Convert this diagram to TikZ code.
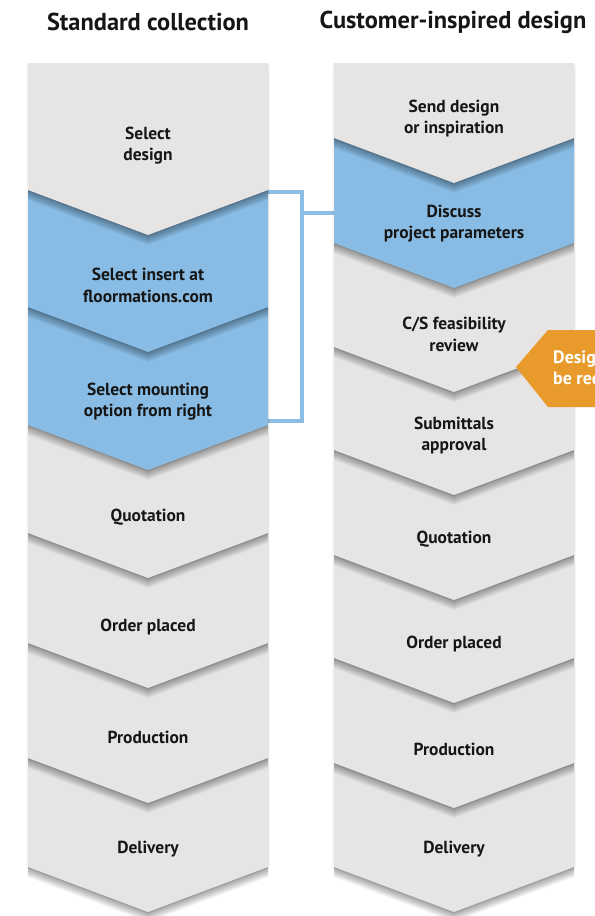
\documentclass[tikz,border=0pt]{standalone}
\usepackage{fontspec}
\setmainfont{PT Sans}
\definecolor{graybox}{HTML}{E6E5E4}
\definecolor{bluebox}{HTML}{88BCE4}
\definecolor{orangetag}{HTML}{E89B2A}
\definecolor{txt}{HTML}{161616}
\definecolor{bracketblue}{HTML}{8CBDE5}
\newcommand\mychevron[5]{% L, R, top, side, colour
  \foreach \k in {1,...,10}{%
    \fill[black,opacity=0.04] (#1,#3+\k) -- (#2,#3+\k) -- (#2,#4+\k) -- ({(#1+#2)/2},#4+45+\k) -- (#1,#4+\k) -- cycle;}
  \fill[black,opacity=0.05] (#1-1.5,#3+2) -- (#2+1.5,#3+2) -- (#2+1.5,#4+1) -- ({(#1+#2)/2},#4+46.5) -- (#1-1.5,#4+1) -- cycle;
  \fill[#5] (#1,#3) -- (#2,#3) -- (#2,#4) -- ({(#1+#2)/2},#4+45) -- (#1,#4) -- cycle;
}
\begin{document}
\begin{tikzpicture}[x=1bp,y=-1bp,
  lbl/.style={font=\bfseries\fontsize{17.5}{21.5}\selectfont, align=center, text=txt, inner sep=0pt},
  title/.style={font=\bfseries\fontsize{24.5}{27}\selectfont, text=txt, inner sep=0pt},
  tagtext/.style={font=\bfseries\fontsize{18}{21}\selectfont, align=left, text=white, inner sep=0pt, anchor=west},
  bracketline/.style={draw=bracketblue, line width=4.5bp, line join=miter}]
\useasboundingbox (0,0) rectangle (595,916);
\fill[white] (0,0) rectangle (595,916);

% titles
\node[title] (t1) at (148,22) {Standard collection};
\node[title] (t2) at (453,22) {Customer-inspired design};

% bracket linking the blue steps
\coordinate (brTL) at (266,192);
\coordinate (brTR) at (302,192);
\coordinate (brBR) at (302,421);
\coordinate (brBL) at (266,421);
\coordinate (brM) at (302,213);
\coordinate (brMR) at (336,213);
\draw[bracketline] (brTL) -- (brTR) -- (brBR) -- (brBL);
\draw[bracketline] (brM) -- (brMR);

% left column (drawn bottom-up)
\mychevron{28}{268}{758}{867}{graybox}
\mychevron{28}{268}{643}{758}{graybox}
\mychevron{28}{268}{533}{643}{graybox}
\mychevron{28}{268}{425}{533}{graybox}
\mychevron{28}{268}{307}{425}{bluebox}
\mychevron{28}{268}{190}{307}{bluebox}
\mychevron{28}{268}{63}{190}{graybox}

% right column (drawn bottom-up)
\mychevron{334}{574}{763}{867}{graybox}
\mychevron{334}{574}{658}{763}{graybox}
\mychevron{334}{574}{555}{658}{graybox}
\mychevron{334}{574}{450}{555}{graybox}
\mychevron{334}{574}{347}{450}{graybox}
\mychevron{334}{574}{243}{347}{graybox}
\mychevron{334}{574}{138}{243}{bluebox}
\mychevron{334}{574}{63}{138}{graybox}

% left labels
\node[lbl] (l1) at (148,145.5) {Select\\design};
\node[lbl] (l2) at (148,285.5) {Select insert at\\floormations.com};
\node[lbl] (l3) at (148,401.5) {Select mounting\\option from right};
\node[lbl] (l4) at (148,517.5) {Quotation};
\node[lbl] (l5) at (148,627.5) {Order placed};
\node[lbl] (l6) at (148,737.5) {Production};
\node[lbl] (l7) at (148,849.5) {Delivery};

% right labels
\node[lbl] (r1) at (454,118.5) {Send design\\or inspiration};
\node[lbl] (r2) at (454,223.5) {Discuss\\project parameters};
\node[lbl] (r3) at (454,334.5) {C/S feasibility\\review};
\node[lbl] (r4) at (454,435.5) {Submittals\\approval};
\node[lbl] (r5) at (454,539.5) {Quotation};
\node[lbl] (r6) at (454,644.5) {Order placed};
\node[lbl] (r7) at (454,749.5) {Production};
\node[lbl] (r8) at (454,849.5) {Delivery};

% orange tag (cut by the picture edge, as in the reference)
\begin{scope}
\clip (0,0) rectangle (595,916);
\fill[orangetag] (516,367) -- (548,330) -- (600,330) -- (600,407) -- (548,407) -- cycle;
\node[tagtext] (tag) at (553,369) {Design\\be required};
\end{scope}
\end{tikzpicture}
\end{document}
